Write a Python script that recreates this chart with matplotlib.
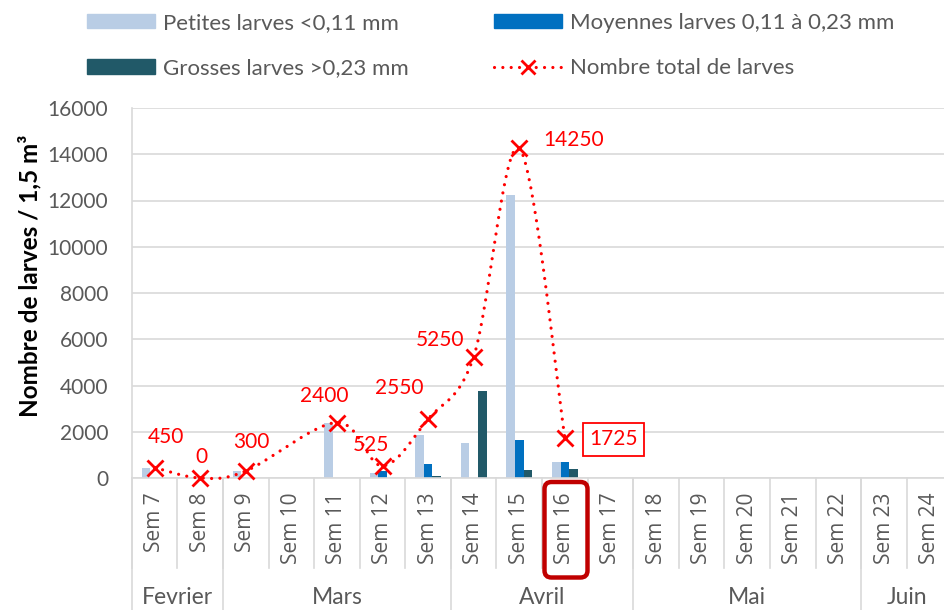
import numpy as np
import matplotlib
matplotlib.use("Agg")
import matplotlib.pyplot as plt
from matplotlib.patches import Patch, FancyBboxPatch
from matplotlib.lines import Line2D
import matplotlib.transforms as mtransforms

plt.rcParams['font.family'] = ['Lato', 'DejaVu Sans']

# données
semaines = ['Sem 7', 'Sem 8', 'Sem 9', 'Sem 10', 'Sem 11', 'Sem 12', 'Sem 13', 'Sem 14', 'Sem 15',
            'Sem 16', 'Sem 17', 'Sem 18', 'Sem 19', 'Sem 20', 'Sem 21', 'Sem 22', 'Sem 23', 'Sem 24']
mois = ['Fevrier', 'Mars', 'Avril', 'Mai', 'Juin']
nb_sem_mois = [2, 5, 4, 5, 2]

petites = [450, 0, 300, np.nan, 2400, 225, 1850, 1500, 12250, 675, np.nan, np.nan, np.nan, np.nan, np.nan, np.nan, np.nan, np.nan]
moyennes = [0, 0, 0, np.nan, 0, 300, 600, 0, 1650, 675, np.nan, np.nan, np.nan, np.nan, np.nan, np.nan, np.nan, np.nan]
grosses = [0, 0, 0, np.nan, 0, 0, 100, 3750, 350, 375, np.nan, np.nan, np.nan, np.nan, np.nan, np.nan, np.nan, np.nan]
total = [450, 0, 300, np.nan, 2400, 525, 2550, 5250, 14250, 1725, np.nan, np.nan, np.nan, np.nan, np.nan, np.nan, np.nan, np.nan]

# décalage des étiquettes (points) par rapport au marqueur
label_offsets = {0: (8, 22), 1: (1, 15), 2: (4, 21), 4: (-9, 19), 5: (-8, 15),
                 6: (-21, 22), 7: (-24, 12), 8: (39, 6), 9: (35, -1)}

c_pet = '#B9CDE5'
c_moy = '#0070C0'
c_gro = '#215968'
c_red = '#FF0000'
c_grid = '#D9D9D9'
c_txt = '#595959'


def smooth_line(ax, xs, ys, n=40):
    # courbe lissée façon Excel (Bezier / Catmull-Rom) calculée en pixels
    pts = ax.transData.transform(np.column_stack([xs, ys]))
    out = []
    for i in range(len(pts) - 1):
        p0 = pts[max(i - 1, 0)]
        p1 = pts[i]
        p2 = pts[i + 1]
        p3 = pts[min(i + 2, len(pts) - 1)]
        c1 = p1 + (p2 - p0) / 6
        c2 = p2 - (p3 - p1) / 6
        t = np.linspace(0, 1, n)[:, None]
        seg = (1 - t) ** 3 * p1 + 3 * (1 - t) ** 2 * t * c1 + 3 * (1 - t) * t ** 2 * c2 + t ** 3 * p2
        out.append(seg if i == 0 else seg[1:])
    out = np.vstack(out)
    return ax.transData.inverted().transform(out)


fig = plt.figure(figsize=(9.45, 6.10), dpi=100)
ax = fig.add_axes([131.7 / 945, 132 / 610, (952.5 - 131.7) / 945, 370 / 610])

x = np.arange(len(semaines))
w = 0.19
ax.bar(x - w, petites, w, color=c_pet, zorder=2)
ax.bar(x, moyennes, w, color=c_moy, zorder=2)
ax.bar(x + w, grosses, w, color=c_gro, zorder=2)

ax.set_xlim(-0.5, len(semaines) - 0.5)
ax.set_ylim(0, 16000)
ax.set_yticks(np.arange(0, 16001, 2000))
ax.tick_params(axis='y', length=0, labelsize=15, labelcolor=c_txt, pad=17)
ax.set_xticks([])
ax.grid(axis='y', color=c_grid, lw=1.2, zorder=0)
for s in ['top', 'right']:
    ax.spines[s].set_visible(False)
for s in ['left', 'bottom']:
    ax.spines[s].set_color(c_grid)
    ax.spines[s].set_linewidth(1.2)

# courbe du total
tot = np.array(total, dtype=float)
ok = ~np.isnan(tot)
curve = smooth_line(ax, x[ok], tot[ok])
ax.plot(curve[:, 0], curve[:, 1], color=c_red, lw=2.3, linestyle=(0, (0.01, 2.6)),
        dash_capstyle='round', zorder=3, clip_on=False)
ax.plot(x[ok], tot[ok], linestyle='none', marker='x', ms=11, mew=2, color=c_red, zorder=4, clip_on=False)

for i, v in enumerate(total):
    if np.isnan(v):
        continue
    dx, dy = label_offsets[i]
    box = None
    if i == 9:
        box = dict(boxstyle='square,pad=0.3', fc='white', ec=c_red, lw=1.3)
    ax.annotate(f'{int(v)}', (x[i], v), xytext=(dx, dy), textcoords='offset points',
                ha='center', va='center', fontsize=15, color=c_red, bbox=box, zorder=5)

# axe des catégories à deux niveaux
trans = mtransforms.blended_transform_factory(ax.transData, ax.transAxes)
for i, lab in enumerate(semaines):
    ax.text(x[i], -0.04, lab, rotation=90, ha='center', va='top', fontsize=15,
            family=['Open Sans', 'DejaVu Sans'], color=c_txt, transform=trans)
for i in range(len(semaines) + 1):
    ax.plot([i - 0.5, i - 0.5], [0, -0.243], color=c_grid, lw=1.2, transform=trans, clip_on=False)
pos = 0
bornes = [0]
for m, n in zip(mois, nb_sem_mois):
    ax.text(pos + n / 2 - 0.5, -0.324, m, ha='center', va='center', fontsize=16.5,
            color=c_txt, transform=trans)
    pos += n
    bornes.append(pos)
for b in bornes:
    ax.plot([b - 0.5, b - 0.5], [0, -0.36], color=c_grid, lw=1.2, transform=trans, clip_on=False)

# encadré semaine 16
fig.patches.append(FancyBboxPatch((5.445, 0.325), 0.43, 0.955,
                                  boxstyle='round,pad=0,rounding_size=0.07',
                                  transform=fig.dpi_scale_trans, fc='none', ec='#C00000', lw=3.2))

fig.text(30 / 945, 1 - 276 / 610, 'Nombre de larves / 1,5 m³', rotation=90, ha='center', va='center',
         fontsize=17.5, fontweight='bold', color='black')

# légende (deux colonnes placées séparément)
h_pet = Patch(color=c_pet)
h_moy = Patch(color=c_moy)
h_gro = Patch(color=c_gro)
h_tot = Line2D([0], [0], color=c_red, lw=2.3, linestyle=(0, (0.01, 2.6)), dash_capstyle='round',
               marker='x', ms=10, mew=2)
leg_kw = dict(loc='upper left', frameon=False, fontsize=16, labelcolor=c_txt, handlelength=3.06,
              handleheight=0.63, handletextpad=0.36, labelspacing=1.14, borderpad=0, borderaxespad=0)
leg1 = fig.legend([h_pet, h_gro], ['Petites larves <0,11 mm', 'Grosses larves >0,23 mm'],
                  bbox_to_anchor=(87 / 945, 1 - 13 / 610), **leg_kw)
leg2 = fig.legend([h_moy, h_tot], ['Moyennes larves 0,11 à 0,23 mm', 'Nombre total de larves'],
                  bbox_to_anchor=(494 / 945, 1 - 13 / 610), **leg_kw)

fig.savefig('out.png', dpi=100)
